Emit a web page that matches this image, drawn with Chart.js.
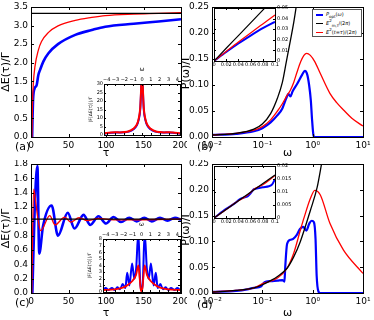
<!DOCTYPE html>
<html>
<head>
<meta charset="utf-8">
<script src="https://cdn.jsdelivr.net/npm/chart.js@4.4.0/dist/chart.umd.min.js"></script>
<style>
body { margin: 0; background: #fff; }
#fig { position: relative; width: 374px; height: 320px; overflow: hidden; font-family: 'DejaVu Sans', sans-serif; }
#fig canvas { position: absolute; }
.lbl { position: absolute; font-size: 11px; line-height: 11px; }
.legend { position: absolute; border: 1px solid #555; background: #fff; font-size: 5px; line-height: 9px; box-sizing: border-box; padding: 0 0 0 3px; }
.legend .sw { display: inline-block; width: 7px; vertical-align: middle; margin-right: 3px; }
.legend sub, .legend sup { font-size: 4px; line-height: 0; }
</style>
</head>
<body>
<div id="fig">
  <canvas id="ca" width="187" height="160" style="left:0;top:0"></canvas>
  <canvas id="cb" width="194" height="160" style="left:180px;top:0"></canvas>
  <canvas id="cc" width="187" height="160" style="left:0;top:160px"></canvas>
  <canvas id="cd" width="194" height="160" style="left:180px;top:160px"></canvas>
  <canvas id="ia" width="94" height="72" style="left:88px;top:66px"></canvas>
  <canvas id="ib" width="90" height="66" style="left:210px;top:4px"></canvas>
  <canvas id="ic" width="95" height="74" style="left:87px;top:221px"></canvas>
  <canvas id="id" width="90" height="66" style="left:210px;top:162px"></canvas>
  <div class="legend" style="left:312px;top:9px;width:50px;height:28px">
    <div><span class="sw" style="background:#0000ff;height:2px"></span><i>P</i><sub>opt</sub>(<i>ω</i>)</div>
    <div><span class="sw" style="background:#000;height:1px"></span><i>E</i><sup>2</sup><sub>m,t</sub>/(2<i>π</i>)</div>
    <div><span class="sw" style="background:#ff0000;height:1px"></span><i>E</i><sup>2</sup>(<i>t</i>=<i>τ</i>)/(2<i>π</i>)</div>
  </div>
  <div class="lbl" style="left:15px;top:141px">(a)</div>
  <div class="lbl" style="left:197px;top:141px">(b)</div>
  <div class="lbl" style="left:15px;top:297px">(c)</div>
  <div class="lbl" style="left:197px;top:299px">(d)</div>
</div>
<script>
// ---- panel (a): energy vs tau ----
const tauA_blue = [1.5, 2.0, 2.7, 3.5, 5.3, 7.6, 9.8, 12, 16.4, 23, 36, 59, 81, 99, 137, 170, 200];
const blueA     = [0, 0.5, 0.99, 1.2, 1.33, 1.4, 1.67, 1.8, 2.03, 2.25, 2.5, 2.75, 2.88, 2.97, 3.05, 3.11, 3.17];
const tauA_red  = [1.2, 2.0, 3.1, 5.3, 9.8, 14, 23, 36, 59, 81, 99, 137, 170, 200];
const redA      = [0, 0.9, 1.44, 1.9, 2.34, 2.57, 2.81, 2.99, 3.14, 3.22, 3.27, 3.31, 3.33, 3.35];
const tauLine   = [0, 200];
const blackA    = [3.33, 3.33];

// inset (a): spectrum
const wIa    = [-4.3, -3.5, -3, -2.5, -2, -1.5, -1, -0.6, -0.4, -0.2, -0.1, 0, 0.1, 0.2, 0.4, 0.6, 1, 1.5, 2, 2.5, 3, 3.5, 4.3];
const blueIa = [0.8, 1.3, 1.5, 1.4, 1.6, 2.0, 3.2, 5.5, 8.5, 15, 26, 40, 26, 15, 8.5, 5.5, 3.2, 2.0, 1.6, 1.4, 1.5, 1.3, 0.8];
const redIa  = [1.0, 1.5, 1.6, 1.5, 1.7, 2.2, 3.6, 6, 9, 16, 27, 40, 27, 16, 9, 6, 3.6, 2.2, 1.7, 1.5, 1.6, 1.5, 1.0];

// ---- panel (b): power vs omega ----
const wB_black = [0.01, 0.03, 0.068, 0.1, 0.146, 0.2, 0.25, 0.3, 0.36, 0.42, 0.47, 0.55];
const blackB   = [0.004, 0.007, 0.015, 0.025, 0.045, 0.075, 0.105, 0.145, 0.185, 0.22, 0.25, 0.3];
const wB_blue  = [0.01, 0.03, 0.068, 0.1, 0.146, 0.2, 0.25, 0.3, 0.33, 0.36, 0.4, 0.49, 0.62, 0.7, 0.78, 0.85, 0.92, 0.97, 1.03, 1.08, 10];
const blueB    = [0.004, 0.006, 0.011, 0.017, 0.028, 0.042, 0.055, 0.075, 0.083, 0.078, 0.088, 0.102, 0.12, 0.127, 0.12, 0.1, 0.07, 0.035, 0.005, 0, 0];
const wB_red   = [0.01, 0.03, 0.068, 0.1, 0.146, 0.2, 0.25, 0.31, 0.36, 0.42, 0.49, 0.58, 0.67, 0.76, 0.9, 1.1, 1.42, 2.2, 3, 4.1, 6, 10];
const redB     = [0.004, 0.007, 0.013, 0.02, 0.033, 0.05, 0.064, 0.08, 0.09, 0.105, 0.125, 0.145, 0.157, 0.161, 0.157, 0.145, 0.122, 0.084, 0.066, 0.052, 0.036, 0.021];

// inset (b)
const wIb     = [0, 0.02, 0.04, 0.06, 0.08, 0.1];
const blackIb = [0, 0.012, 0.024, 0.036, 0.048, 0.06];
const redIb   = [0, 0.009, 0.018, 0.0265, 0.035, 0.0435];
const blueIb  = [0, 0.0085, 0.0165, 0.024, 0.031, 0.037];

// ---- panel (c) ----
const tauC_blue = [1.8, 5, 8.5, 11, 16, 27.5, 36, 49, 58, 70, 79, 90, 100, 110, 120, 131, 141, 151, 161, 172, 182, 192, 200];
const blueC     = [0, 1.2, 1.77, 0.55, 0.93, 1.22, 0.8, 1.12, 0.9, 1.09, 0.95, 1.07, 0.97, 1.06, 0.99, 1.05, 1.0, 1.05, 1.0, 1.05, 1.01, 1.05, 1.02];
const tauC_red  = [1, 3.5, 6, 9, 13, 25, 32, 45, 53, 64, 75, 90, 110, 200];
const redC      = [0, 1.45, 1.3, 1.05, 0.87, 1.08, 0.95, 1.06, 0.99, 1.05, 1.01, 1.04, 1.02, 1.03];
const blackC    = [1.03, 1.03];

// inset (c)
const wIc    = [-4.3, -4.0, -3.7, -3.3, -3.0, -2.7, -2.4, -2.1, -1.8, -1.6, -1.35, -1.05, -0.8, -0.6, -0.35, -0.15, 0, 0.15, 0.35, 0.6, 0.8, 1.05, 1.35, 1.6, 1.8, 2.1, 2.4, 2.7, 3.0, 3.3, 3.7, 4.0, 4.3];
const blueIc = [0.3, 0.6, 0.3, 0.6, 0.3, 0.7, 0.4, 1.2, 0.6, 2.9, 1.0, 4.3, 2.0, 3.5, 9, 1.5, 0.2, 1.5, 9, 3.5, 2.0, 4.3, 1.0, 2.9, 0.6, 1.2, 0.4, 0.7, 0.3, 0.6, 0.3, 0.6, 0.3];
const wIc_r  = [-4.3, -3, -2, -1.5, -1, -0.6, -0.35, -0.2, -0.1, 0, 0.1, 0.2, 0.35, 0.6, 1, 1.5, 2, 3, 4.3];
const redIc  = [0.3, 0.4, 0.7, 1.1, 1.7, 2.6, 4.0, 2.0, 0.5, 0.1, 0.5, 2.0, 4.0, 2.6, 1.7, 1.1, 0.7, 0.4, 0.3];

// ---- panel (d) ----
const wD_black = [0.01, 0.03, 0.068, 0.1, 0.146, 0.2, 0.31, 0.42, 0.57, 0.9, 1.23, 1.5, 1.7];
const blackD   = [0.0015, 0.005, 0.01, 0.016, 0.024, 0.032, 0.048, 0.07, 0.1, 0.16, 0.205, 0.25, 0.28];
const wD_red   = [0.01, 0.03, 0.068, 0.107, 0.2, 0.31, 0.42, 0.57, 0.67, 0.9, 1.1, 1.42, 2.2, 4.1, 10];
const redD     = [0.002, 0.005, 0.01, 0.019, 0.029, 0.048, 0.077, 0.122, 0.145, 0.183, 0.199, 0.19, 0.135, 0.083, 0.038];
const wD_blue  = [0.01, 0.03, 0.05, 0.068, 0.095, 0.105, 0.12, 0.15, 0.2, 0.25, 0.275, 0.285, 0.31, 0.36, 0.41, 0.48, 0.56, 0.65, 0.75, 0.86, 0.96, 1.06, 1.14, 1.2, 1.3, 1.4, 10];
const blueD    = [0.002, 0.004, 0.007, 0.01, 0.013, 0.019, 0.022, 0.023, 0.024, 0.025, 0.022, 0.05, 0.095, 0.103, 0.105, 0.112, 0.124, 0.128, 0.121, 0.135, 0.14, 0.137, 0.105, 0.034, 0.003, 0, 0];

// inset (d)
const wId_blue = [0, 0.02, 0.035, 0.042, 0.048, 0.055, 0.06, 0.065, 0.07, 0.08, 0.09, 0.095, 0.1];
const blueId   = [0, 0.0035, 0.0058, 0.0072, 0.0078, 0.0083, 0.0095, 0.011, 0.0113, 0.0118, 0.0122, 0.0128, 0.015];
const wId_red  = [0, 0.02, 0.04, 0.05, 0.06, 0.065, 0.08, 0.1];
const redId    = [0, 0.0033, 0.0066, 0.008, 0.0098, 0.011, 0.0128, 0.0163];
const wId_blk  = [0, 0.1];
const blackId  = [0, 0.0165];

// tick positions / labels
const tauTicks   = [0, 50, 100, 150, 200];
const yTicksA    = [0, 0.5, 1, 1.5, 2, 2.5, 3, 3.5];
const yTicksC    = [0, 0.2, 0.4, 0.6, 0.8, 1, 1.2, 1.4, 1.6, 1.8];
const yTicksP    = [0, 0.05, 0.1, 0.15, 0.2, 0.25];
const logTicks   = [0.01, 0.1, 1, 10];
const logLabels  = ['10⁻²', '10⁻¹', '10⁰', '10¹'];
const wInsTicks  = [-4, -3, -2, -1, 0, 1, 2, 3, 4];
const yTicksIa   = [0, 5, 10, 15, 20, 25, 30];
const yTicksIc   = [0, 1, 2, 3, 4, 5, 6, 7, 8];
const xTicksIbd  = [0, 0.02, 0.04, 0.06, 0.08, 0.1];
const yTicksIb   = [0, 0.01, 0.02, 0.03, 0.04, 0.05];
const yTicksId   = [0, 0.005, 0.01, 0.015, 0.02];

Chart.defaults.font.family = "'DejaVu Sans', sans-serif";
Chart.defaults.font.size = 9;
Chart.defaults.color = '#000';

const BLUE = '#0000ff', RED = '#ff0000', BLACK = '#000000';

function pts(xs, ys) {
    return xs.map((x, i) => ({ x: x, y: ys[i] }));
}

function line(xs, ys, color, width) {
    return {
        data: pts(xs, ys),
        borderColor: color,
        borderWidth: width,
        pointRadius: 0,
        fill: false,
        cubicInterpolationMode: 'monotone'
    };
}

// box around the plot area + inward ticks, like the matplotlib frame
const framePlugin = {
    id: 'frame',
    beforeDraw(chart, args, opts) {
        if (!opts.fill) return;
        const a = chart.chartArea, ctx = chart.ctx;
        ctx.save();
        ctx.fillStyle = '#fff';
        ctx.fillRect(a.left, a.top, a.right - a.left, a.bottom - a.top);
        ctx.restore();
    },
    afterDraw(chart, args, opts) {
        const a = chart.chartArea, ctx = chart.ctx;
        const len = opts.tick || 3;
        ctx.save();
        ctx.strokeStyle = '#000';
        ctx.lineWidth = 1;
        ctx.beginPath();
        Object.values(chart.scales).forEach(s => {
            s.ticks.forEach(t => {
                const p = Math.round(s.getPixelForValue(t.value)) + 0.5;
                if (s.isHorizontal()) {
                    ctx.moveTo(p, a.bottom); ctx.lineTo(p, a.bottom - len);
                    ctx.moveTo(p, a.top); ctx.lineTo(p, a.top + len);
                } else {
                    ctx.moveTo(a.left, p); ctx.lineTo(a.left + len, p);
                    ctx.moveTo(a.right, p); ctx.lineTo(a.right - len, p);
                }
            });
        });
        ctx.stroke();
        ctx.strokeRect(Math.round(a.left) + 0.5, Math.round(a.top) + 0.5,
                       Math.round(a.right - a.left), Math.round(a.bottom - a.top));
        ctx.restore();
    }
};

function axis(o) {
    return {
        type: o.type || 'linear',
        position: o.position,
        min: o.min,
        max: o.max,
        afterFit: function(scale) {
            if (scale.isHorizontal()) scale.height = o.size; else scale.width = o.size;
            scale.paddingLeft = 0; scale.paddingRight = 0;
            scale.paddingTop = 0; scale.paddingBottom = 0;
        },
        afterBuildTicks: function(scale) {
            scale.ticks = o.ticks.map(v => ({ value: v }));
        },
        grid: { display: false, drawTicks: false, tickLength: 0 },
        border: { display: false },
        ticks: {
            autoSkip: false,
            maxRotation: 0,
            padding: o.pad !== undefined ? o.pad : 3,
            font: { size: o.font || 9 },
            callback: o.fmt
        },
        title: o.title
            ? { display: true, text: o.title, padding: 0, font: { size: o.tfont || 11 } }
            : { display: false }
    };
}

function makeChart(id, datasets, scales, padding, inset) {
    return new Chart(document.getElementById(id), {
        type: 'line',
        data: { datasets: datasets },
        options: {
            responsive: false,
            animation: false,
            devicePixelRatio: 1,
            layout: { padding: padding },
            plugins: {
                legend: { display: false },
                tooltip: { enabled: false },
                frame: { fill: inset, tick: inset ? 2 : 3 }
            },
            scales: scales
        },
        plugins: [framePlugin]
    });
}

// (a)
makeChart('ca', [
    line(tauLine, blackA, BLACK, 1.3),
    line(tauA_red, redA, RED, 1.3),
    line(tauA_blue, blueA, BLUE, 2.6)
], {
    x: axis({ min: 0, max: 200, ticks: tauTicks, size: 23, title: 'τ', fmt: v => String(v) }),
    y: axis({ min: 0, max: 3.5, ticks: yTicksA, size: 31, title: 'ΔE(τ)/Γ', fmt: v => v.toFixed(1) })
}, { top: 7, right: 6, left: 0, bottom: 0 }, false);

// (b)
makeChart('cb', [
    line(wB_black, blackB, BLACK, 1.3),
    line(wB_red, redB, RED, 1.3),
    line(wB_blue, blueB, BLUE, 2.2)
], {
    x: axis({ type: 'logarithmic', min: 0.01, max: 10, ticks: logTicks, size: 23, title: 'ω', fmt: (v, i) => logLabels[i] }),
    y: axis({ min: 0, max: 0.25, ticks: yTicksP, size: 32, title: 'P(ω)/Γ', fmt: v => v.toFixed(2) })
}, { top: 7, right: 11, left: 0, bottom: 0 }, false);

// (c)
makeChart('cc', [
    line(tauLine, blackC, BLACK, 1.3),
    line(tauC_red, redC, RED, 1.3),
    line(tauC_blue, blueC, BLUE, 2.6)
], {
    x: axis({ min: 0, max: 200, ticks: tauTicks, size: 27, title: 'τ', fmt: v => String(v) }),
    y: axis({ min: 0, max: 1.8, ticks: yTicksC, size: 31, title: 'ΔE(τ)/Γ', fmt: v => v.toFixed(1) })
}, { top: 4, right: 6, left: 0, bottom: 0 }, false);

// (d)
makeChart('cd', [
    line(wD_black, blackD, BLACK, 1.3),
    line(wD_red, redD, RED, 1.3),
    line(wD_blue, blueD, BLUE, 2.2)
], {
    x: axis({ type: 'logarithmic', min: 0.01, max: 10, ticks: logTicks, size: 27, title: 'ω', fmt: (v, i) => logLabels[i] }),
    y: axis({ min: 0, max: 0.25, ticks: yTicksP, size: 32, title: 'P(ω)/Γ', fmt: v => v.toFixed(2) })
}, { top: 4, right: 11, left: 0, bottom: 0 }, false);

// inset (a)
makeChart('ia', [
    line(wIa, redIa, RED, 2),
    line(wIa, blueIa, BLUE, 2)
], {
    x: axis({ position: 'top', min: -4.3, max: 4.3, ticks: wInsTicks, size: 18, pad: 1, font: 5, title: 'ω', tfont: 6, fmt: v => String(v).replace('-', '−') }),
    y: axis({ min: 0, max: 30, ticks: yTicksIa, size: 16, pad: 1, font: 5, title: '|F[ΔE(τ)]|/Γ', tfont: 4.5, fmt: v => String(v) })
}, { top: 0, right: 2, left: 0, bottom: 3 }, true);

// inset (b)
makeChart('ib', [
    line(wIb, blackIb, BLACK, 1.2),
    line(wIb, redIb, RED, 1.2),
    line(wIb, blueIb, BLUE, 2)
], {
    x: axis({ min: 0, max: 0.1, ticks: xTicksIbd, size: 9, pad: 1, font: 5, fmt: v => String(v) }),
    y: axis({ position: 'right', min: 0, max: 0.05, ticks: yTicksIb, size: 25, pad: 2, font: 5, fmt: v => String(v) })
}, { top: 4, right: 0, left: 4, bottom: 0 }, true);

// inset (c)
makeChart('ic', [
    line(wIc_r, redIc, RED, 1.8),
    line(wIc, blueIc, BLUE, 2)
], {
    x: axis({ position: 'top', min: -4.3, max: 4.3, ticks: wInsTicks, size: 18, pad: 1, font: 5, title: 'ω', tfont: 6, fmt: v => String(v).replace('-', '−') }),
    y: axis({ min: 0, max: 8, ticks: yTicksIc, size: 16, pad: 1, font: 5, title: '|F[ΔE(τ)]|/Γ', tfont: 4.5, fmt: v => String(v) })
}, { top: 0, right: 2, left: 0, bottom: 3 }, true);

// inset (d)
makeChart('id', [
    line(wId_blk, blackId, BLACK, 1.2),
    line(wId_red, redId, RED, 1.2),
    line(wId_blue, blueId, BLUE, 2)
], {
    x: axis({ min: 0, max: 0.1, ticks: xTicksIbd, size: 10, pad: 1, font: 5, fmt: v => String(v) }),
    y: axis({ position: 'right', min: 0, max: 0.02, ticks: yTicksId, size: 25, pad: 2, font: 5, fmt: v => String(v) })
}, { top: 4, right: 0, left: 4, bottom: 0 }, true);
</script>
</body>
</html>
